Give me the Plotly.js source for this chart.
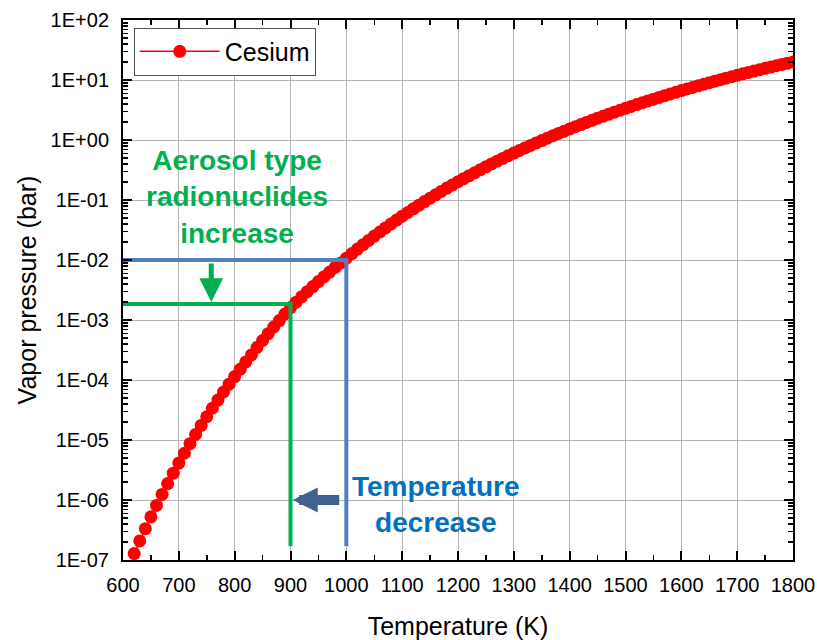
<!DOCTYPE html>
<html>
<head>
<meta charset="utf-8">
<script src="https://cdn.plot.ly/plotly-3.0.1.min.js"></script>
<style>html,body{margin:0;padding:0;background:#fff;}#chart{width:817px;height:640px;}</style>
</head>
<body>
<div id="chart"></div>
<script>
// Data
const temperatureK = [
  620, 630, 640, 650, 660, 670, 680, 690, 700, 710,
  720, 730, 740, 750, 760, 770, 780, 790, 800, 810,
  820, 830, 840, 850, 860, 870, 880, 890, 900, 910,
  920, 930, 940, 950, 960, 970, 980, 990, 1000, 1010,
  1020, 1030, 1040, 1050, 1060, 1070, 1080, 1090, 1100, 1110,
  1120, 1130, 1140, 1150, 1160, 1170, 1180, 1190, 1200, 1210,
  1220, 1230, 1240, 1250, 1260, 1270, 1280, 1290, 1300, 1310,
  1320, 1330, 1340, 1350, 1360, 1370, 1380, 1390, 1400, 1410,
  1420, 1430, 1440, 1450, 1460, 1470, 1480, 1490, 1500, 1510,
  1520, 1530, 1540, 1550, 1560, 1570, 1580, 1590, 1600, 1610,
  1620, 1630, 1640, 1650, 1660, 1670, 1680, 1690, 1700, 1710,
  1720, 1730, 1740, 1750, 1760, 1770, 1780, 1790, 1800
];
const cesiumPressureBar = [
  1.28e-7, 2.08e-7, 3.33e-7, 5.24e-7, 8.13e-7, 1.24e-6, 1.88e-6, 2.80e-6, 4.13e-6, 6.01e-6,
  8.67e-6, 1.24e-5, 1.75e-5, 2.44e-5, 3.38e-5, 4.63e-5, 6.31e-5, 8.51e-5, 1.14e-4, 1.51e-4,
  2.00e-4, 2.62e-4, 3.48e-4, 4.55e-4, 5.92e-4, 7.64e-4, 9.79e-4, 1.26e-3, 1.61e-3, 1.98e-3,
  2.43e-3, 2.97e-3, 3.61e-3, 4.37e-3, 5.26e-3, 6.30e-3, 7.52e-3, 8.95e-3, 1.07e-2, 1.28e-2,
  1.52e-2, 1.80e-2, 2.12e-2, 2.50e-2, 2.93e-2, 3.43e-2, 3.99e-2, 4.63e-2, 5.37e-2, 6.19e-2,
  7.14e-2, 8.20e-2, 9.40e-2, 0.1074, 0.1222, 0.139, 0.1578, 0.1782, 0.2014, 0.227,
  0.2547, 0.2858, 0.3199, 0.3573, 0.399, 0.4436, 0.4932, 0.547, 0.6053, 0.6683,
  0.7379, 0.8128, 0.8933, 0.9795, 1.074, 1.178, 1.285, 1.403, 1.528, 1.663,
  1.807, 1.963, 2.128, 2.307, 2.495, 2.692, 2.904, 3.133, 3.373, 3.622,
  3.890, 4.178, 4.477, 4.797, 5.129, 5.483, 5.848, 6.237, 6.653, 7.079,
  7.534, 7.998, 8.492, 9.016, 9.550, 10.14, 10.72, 11.35, 11.99, 12.65,
  13.37, 14.09, 14.83, 15.63, 16.44, 17.30, 18.20, 19.10, 20.04
];

// Guide lines (blue: 1000 K / 1E-02 bar, green: 900 K / ~1.85E-03 bar)
const blueGuideX = [600, 1000, 1000];
const blueGuideY = [1e-2, 1e-2, 1.7e-7];
const greenGuideX = [600, 900, 900];
const greenGuideY = [1.85e-3, 1.85e-3, 1.7e-7];

const xTickVals = [600, 700, 800, 900, 1000, 1100, 1200, 1300, 1400, 1500, 1600, 1700, 1800];
const yTickVals = [1e-7, 1e-6, 1e-5, 1e-4, 1e-3, 1e-2, 1e-1, 1e0, 1e1, 1e2];
const yTickText = ["1E-07", "1E-06", "1E-05", "1E-04", "1E-03", "1E-02", "1E-01", "1E+00", "1E+01", "1E+02"];
const yMinorTickVals = [
  2e-7, 3e-7, 4e-7, 5e-7, 6e-7, 7e-7, 8e-7, 9e-7,
  2e-6, 3e-6, 4e-6, 5e-6, 6e-6, 7e-6, 8e-6, 9e-6,
  2e-5, 3e-5, 4e-5, 5e-5, 6e-5, 7e-5, 8e-5, 9e-5,
  2e-4, 3e-4, 4e-4, 5e-4, 6e-4, 7e-4, 8e-4, 9e-4,
  2e-3, 3e-3, 4e-3, 5e-3, 6e-3, 7e-3, 8e-3, 9e-3,
  2e-2, 3e-2, 4e-2, 5e-2, 6e-2, 7e-2, 8e-2, 9e-2,
  0.2, 0.3, 0.4, 0.5, 0.6, 0.7, 0.8, 0.9,
  2, 3, 4, 5, 6, 7, 8, 9, 20, 30, 40, 50, 60, 70, 80, 90
];

const FONT = "Liberation Sans, Arial, Helvetica, sans-serif";
const GREEN = "#00B050";
const BLUE_LINE = "#4F81BD";
const BLUE_TEXT = "#0070C0";
const BLUE_ARROW = "#41628F";

const traces = [
  {
    x: temperatureK, y: cesiumPressureBar, name: "Cesium",
    type: "scatter", mode: "lines+markers",
    line: {color: "#FF0000", width: 1.5},
    marker: {color: "#FF0000", size: 13, symbol: "circle"},
    showlegend: true
  },
  {
    x: blueGuideX, y: blueGuideY, type: "scatter", mode: "lines",
    line: {color: BLUE_LINE, width: 4}, showlegend: false, hoverinfo: "skip"
  },
  {
    x: greenGuideX, y: greenGuideY, type: "scatter", mode: "lines",
    line: {color: GREEN, width: 4}, showlegend: false, hoverinfo: "skip"
  }
];

const axisCommon = {
  showline: true, linecolor: "#000", linewidth: 2, mirror: "ticks",
  ticks: "inside", ticklen: 9, tickwidth: 2, tickcolor: "#000",
  showgrid: true, gridcolor: "#B4B4B4", gridwidth: 1,
  zeroline: false,
  tickfont: {family: FONT, size: 20, color: "#000"}
};

const layout = {
  width: 817, height: 640,
  margin: {l: 123, r: 24, t: 20, b: 80},
  paper_bgcolor: "#fff", plot_bgcolor: "#fff",
  font: {family: FONT, color: "#000"},
  showlegend: true,
  legend: {
    x: 0.016, y: 0.986, xanchor: "left", yanchor: "top",
    bgcolor: "#fff", bordercolor: "#555", borderwidth: 1,
    font: {family: FONT, size: 25, color: "#000"},
    itemwidth: 80
  },
  xaxis: Object.assign({}, axisCommon, {
    type: "linear", range: [600, 1800],
    tickmode: "array", tickvals: xTickVals,
    ticklabelstandoff: 6,
    minor: {dtick: 50, ticks: "inside", ticklen: 5, tickwidth: 1.5, tickcolor: "#000", showgrid: false},
    title: {text: "Temperature (K)", font: {family: FONT, size: 25, color: "#000"}, standoff: 24}
  }),
  yaxis: Object.assign({}, axisCommon, {
    type: "log", range: [-7, 2],
    tickmode: "array", tickvals: yTickVals, ticktext: yTickText,
    ticklabelstandoff: 8,
    minor: {ticks: "inside", ticklen: 5, tickwidth: 1.5, tickcolor: "#000", showgrid: false,
            tickmode: "array", tickvals: yMinorTickVals},
    title: {text: "Vapor pressure (bar)", font: {family: FONT, size: 25, color: "#000"}, standoff: 7}
  }),
  annotations: [
    {
      x: 804, y: -0.95, xref: "x", yref: "y",
      text: "<b>Aerosol type<br>radionuclides<br>increase</b>",
      showarrow: false, align: "center",
      font: {family: FONT, size: 28, color: GREEN}
    },
    {
      x: 1161, y: -6.07, xref: "x", yref: "y",
      text: "<b>Temperature<br>decrease</b>",
      showarrow: false, align: "center",
      font: {family: FONT, size: 28, color: BLUE_TEXT}
    },
    {
      x: 758, y: -2.70, xref: "x", yref: "y",
      text: "", showarrow: true, axref: "pixel", ayref: "pixel",
      ax: 0, ay: -40, arrowhead: 2, arrowsize: 0.95, arrowwidth: 5, arrowcolor: GREEN
    },
    {
      x: 904, y: -6.0, xref: "x", yref: "y",
      text: "", showarrow: true, axref: "pixel", ayref: "pixel",
      ax: 48, ay: 0, arrowhead: 2, arrowsize: 0.5, arrowwidth: 10, arrowcolor: BLUE_ARROW
    }
  ]
};

Plotly.newPlot("chart", traces, layout, {staticPlot: true, displayModeBar: false});
</script>
</body>
</html>
